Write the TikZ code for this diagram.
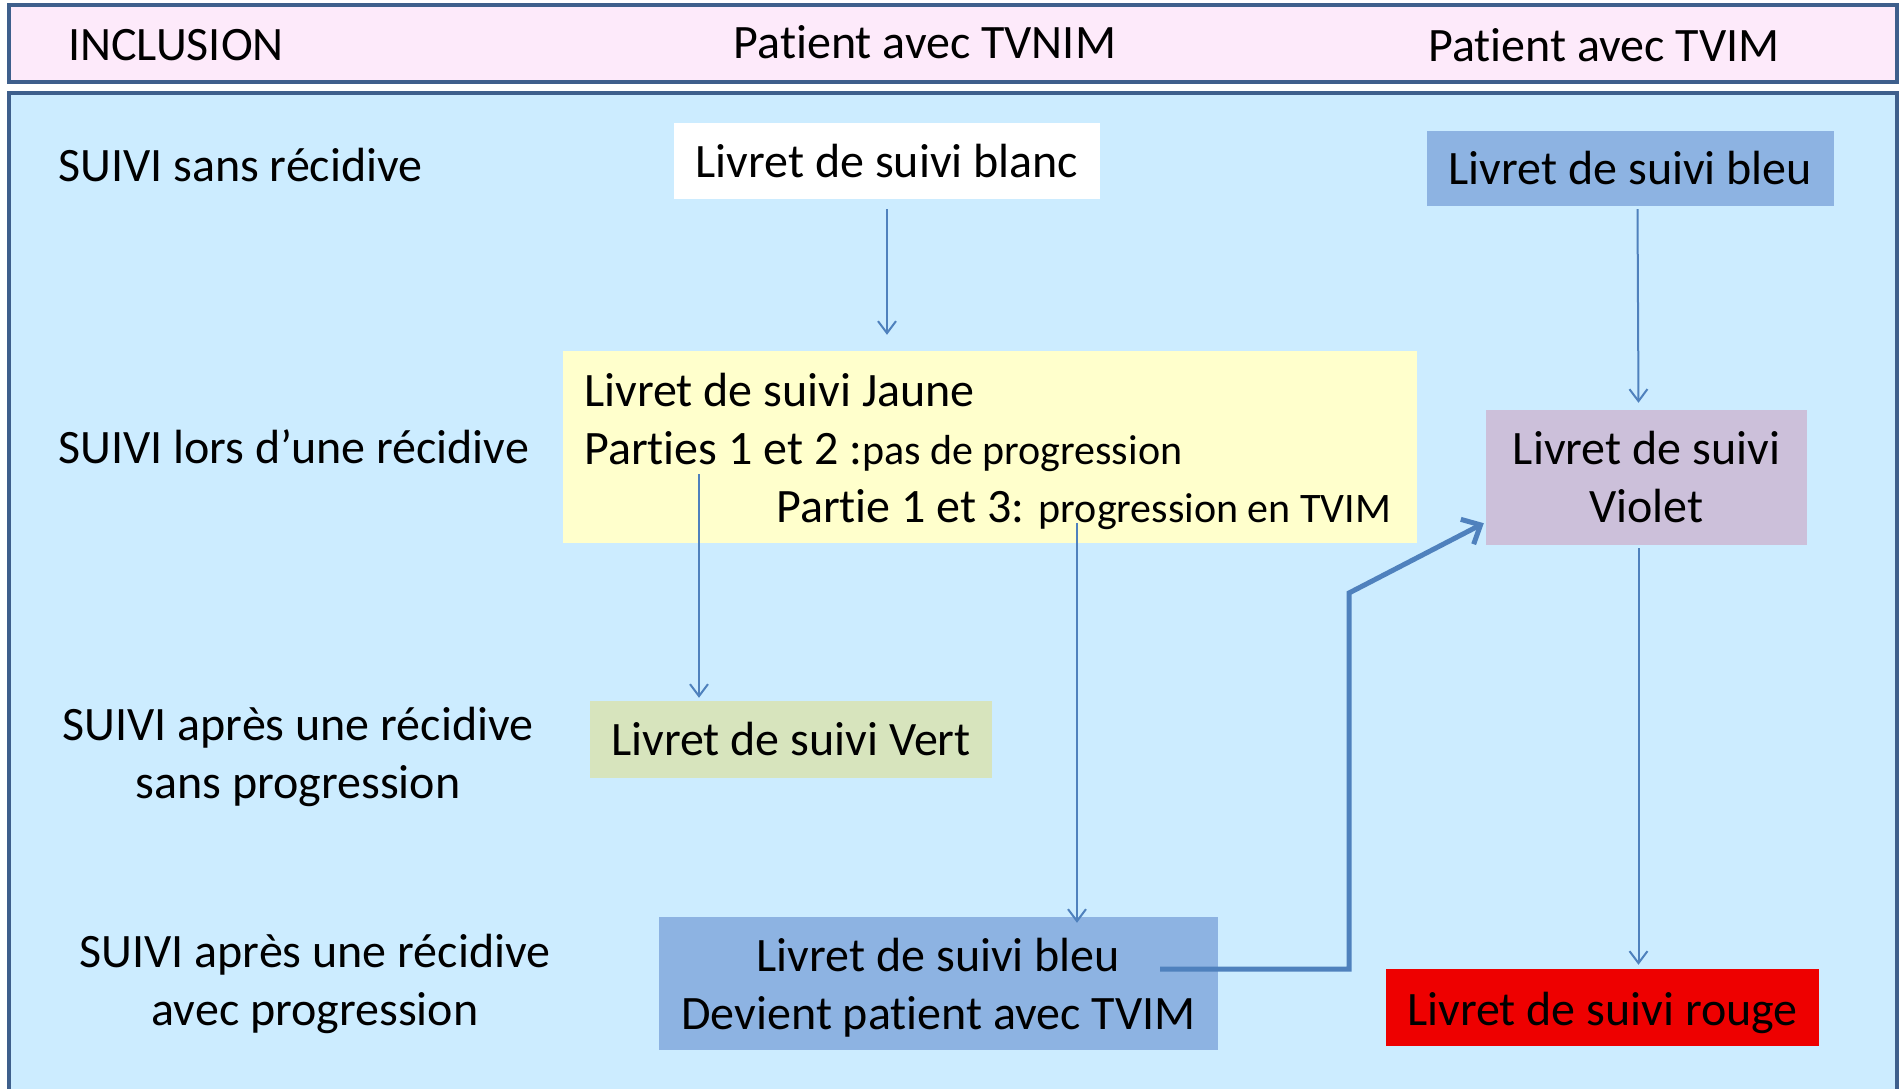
\documentclass[tikz,border=0pt]{standalone}
\usepackage{fontspec}
\setmainfont{Carlito}[Ligatures={NoCommon}]
\usetikzlibrary{arrows.meta}
\definecolor{frameblue}{HTML}{3E5F8C}
\definecolor{headpink}{HTML}{FDEAFA}
\definecolor{bodyblue}{HTML}{CCECFF}
\definecolor{arrowblue}{HTML}{4F81BD}
\definecolor{booklblue}{HTML}{8DB3E2}
\definecolor{booklyellow}{HTML}{FFFFCC}
\definecolor{booklviolet}{HTML}{CCC0DA}
\definecolor{booklgreen}{HTML}{D7E4BD}
\definecolor{booklred}{HTML}{EE0000}
\newcommand\txtL{\fontsize{48}{58}\selectfont}
\newcommand\txtS{\fontsize{42}{58}\selectfont}
% lower the ink of a booklet caption without changing its box
\newcommand\lowered[2]{\raisebox{-#1}[\height][\depth]{#2}}
\begin{document}
\begin{tikzpicture}[x=1pt,y=-1pt,
  panel/.style={draw=frameblue, line width=3.5pt},
  booklet/.style={rectangle, inner sep=0pt, draw=none, font=\txtL, align=center},
  label/.style={inner sep=0pt, font=\txtL, align=center},
  arr/.style={draw=arrowblue, line width=2pt, -{Straight Barb[length=12pt,width=18pt,line width=2pt]}},
  bigarr/.style={draw=arrowblue, line width=5pt, -{Straight Barb[length=15pt,width=28pt,line width=5pt]}}]
\useasboundingbox (0,0) rectangle (1904,1089);

% header band and body panel
\fill[white] (0,0) rectangle (1904,1089);
\draw[panel, fill=headpink] (9,5) rectangle (1897,82);
\draw[panel, fill=bodyblue] (9,93) rectangle (1897,1100);

% header titles
\node[label] (hInc) at (176,45) {INCLUSION};
\node[label] (hNim) at (925,42) {Patient avec TVNIM};
\node[label] (hMim) at (1604,45) {Patient avec TVIM};

% row labels
\node[label, anchor=west] (r1) at (58,165) {SUIVI sans récidive};
\node[label, anchor=west] (r2) at (58,447) {SUIVI lors d’une récidive};
\node[label] (r3) at (298,757) {SUIVI après une récidive\\sans progression};
\node[label] (r4) at (315,984) {SUIVI après une récidive\\avec progression};

% booklets
\node[booklet, fill=white, minimum width=426, minimum height=76] (blanc) at (887,161) {Livret de suivi blanc};
\node[booklet, fill=booklblue, minimum width=407, minimum height=75] (bleuA) at (1630.5,168.5) {Livret de suivi bleu};
\node[booklet, fill=booklyellow, minimum width=854, minimum height=192] (jaune) at (990,447) {};
\node[label, anchor=west, align=left] (jauneTxt) at (584,451)
  {Livret de suivi Jaune\\
   Parties 1 et 2 :{\txtS pas de progression}\\
   \hspace*{192pt}Partie 1 et 3: {\txtS progression en TVIM}};
\node[booklet, fill=booklviolet, minimum width=321, minimum height=135] (violet) at (1646.5,477.5) {Livret de suivi\\Violet};
\node[booklet, fill=booklgreen, minimum width=402, minimum height=77] (vert) at (791,739.5) {Livret de suivi Vert};
\node[booklet, fill=booklblue, minimum width=559, minimum height=133] (bleuB) at (938.5,983.5)
  {\lowered{5pt}{\begin{tabular}{@{}c@{}}Livret de suivi bleu\\Devient patient avec TVIM\end{tabular}}};
\node[booklet, fill=booklred, minimum width=433, minimum height=77] (rouge) at (1602.5,1007.5)
  {\lowered{5pt}{Livret de suivi rouge}};

% transitions
\draw[arr, shorten <=10pt, shorten >=16pt] (blanc.south) -- (blanc.south |- jaune.north);
\draw[arr] ([xshift=7pt,yshift=-3pt]bleuA.south) -- ([xshift=-8pt,yshift=7pt]violet.north);
\coordinate (jv) at (699,474);
\draw[arr] (jv) -- ([yshift=3pt]jv |- vert.north);
\coordinate (jb) at (1077,523);
\draw[arr] (jb) -- ([yshift=-6pt]jb |- bleuB.north);
\draw[arr] ([xshift=-8pt,yshift=-3pt]violet.south) -- ([xshift=36pt,yshift=4pt]rouge.north);

\coordinate (t0) at (1160,969);
\coordinate (k1) at (1349,593);
\draw[bigarr] (t0) -- (t0 -| k1) -- (k1) -- ([xshift=-2pt,yshift=22pt]violet.south west);
\end{tikzpicture}
\end{document}
